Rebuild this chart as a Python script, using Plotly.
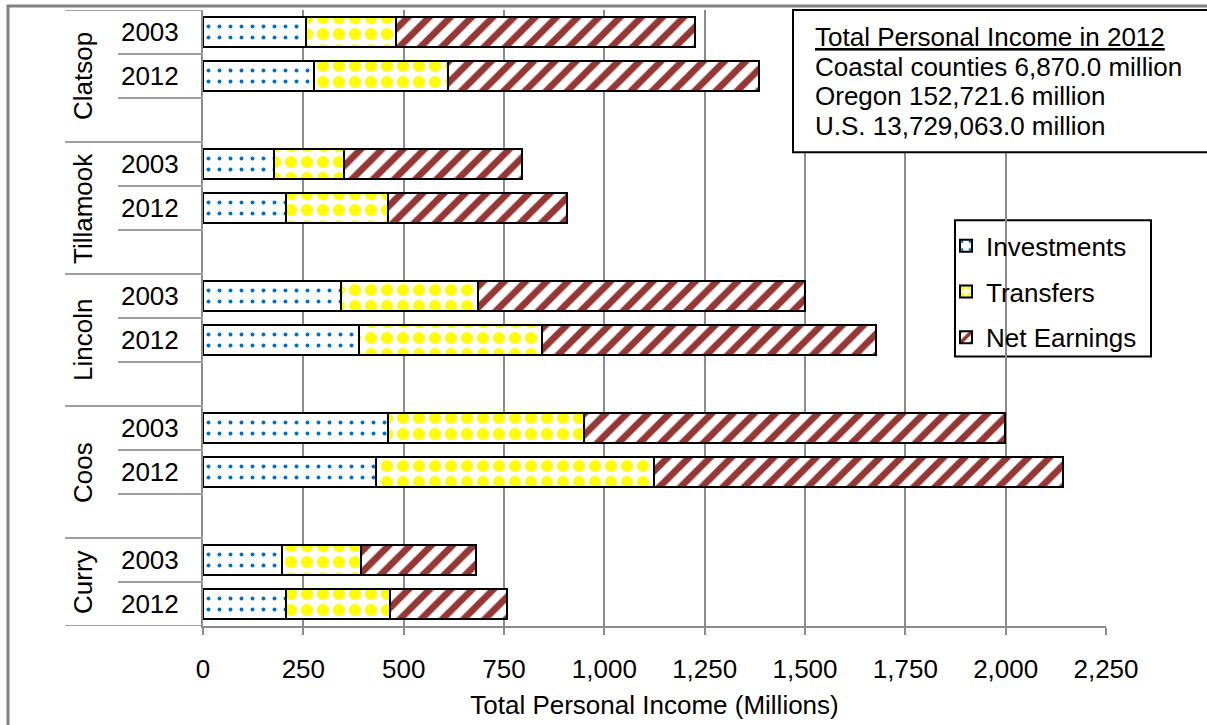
import plotly.graph_objects as go

# ---- data (millions of dollars) ----
counties = ["Clatsop", "Tillamook", "Lincoln", "Coos", "Curry"]
years = ["2003", "2012"]

# ordered county by county, 2003 then 2012
investments = [257, 277, 178, 208, 343, 388, 462, 432, 198, 207]
transfers = [224, 334, 174, 253, 342, 457, 487, 692, 195, 259]
net_earnings = [746, 774, 444, 447, 816, 832, 1049, 1019, 288, 291]

x_ticks = list(range(0, 2251, 250))

summary_title = "Total Personal Income in 2012"
summary_lines = [
    "Coastal counties 6,870.0 million",
    "Oregon 152,721.6 million",
    "U.S. 13,729,063.0 million",
]

# ---- layout geometry (pixels) ----
W, H = 1207, 725
ML, MR, MT, MB = 203, 101, 10, 91
PW, PH = W - ML - MR, H - MT - MB
FONT = "Liberation Sans, Arial, sans-serif"
FS = 26
GRID = "#8c8c8c"


def px_x(px):
    return (px - ML) / PW


def px_y(py):
    return (H - MB - py) / PH


# each county gets one slot per year plus a spacer slot
spg = len(years) + 1
slot_pos = [c * spg + k for c in range(len(counties)) for k in range(len(years))]
slot_text = [years[k] for c in range(len(counties)) for k in range(len(years))]
last_slot = slot_pos[-1]

fig = go.Figure()

series = [
    ("Investments", investments,
     dict(shape=".", fgcolor="#0070C0", bgcolor="white", fgopacity=1, size=11, solidity=0.1)),
    ("Transfers", transfers,
     dict(shape=".", fgcolor="#FFFF00", bgcolor="white", fgopacity=1, size=16, solidity=0.45)),
    ("Net Earnings", net_earnings,
     dict(shape="/", fgcolor="#953735", bgcolor="white", fgopacity=1, size=15, solidity=0.45)),
]
for name, vals, pat in series:
    fig.add_trace(go.Bar(
        y=slot_pos, x=vals, orientation="h", name=name, width=0.68,
        legendgroup=name,
        marker=dict(color="white", line=dict(color="black", width=2), pattern=pat),
    ))

shapes = []
annotations = []

# category dividers and county labels on the left of the y axis
for c, county in enumerate(counties):
    top = c * spg - 0.5
    bottom = min(top + spg, last_slot + 0.5)
    shapes.append(dict(type="line", xref="paper", yref="y", x0=px_x(65), x1=0,
                       y0=top, y1=top, line=dict(color="#a0a0a0", width=2)))
    for k in range(len(years)):
        yb = c * spg + k + 0.5
        if yb >= bottom:
            continue
        shapes.append(dict(type="line", xref="paper", yref="y", x0=px_x(118), x1=0,
                           y0=yb, y1=yb, line=dict(color="#a0a0a0", width=2)))
    annotations.append(dict(text=county, xref="paper", yref="y", x=px_x(83),
                            y=(top + bottom) / 2, textangle=-90, showarrow=False,
                            xanchor="center", yanchor="middle",
                            font=dict(family=FONT, size=FS, color="black")))
shapes.append(dict(type="line", xref="paper", yref="y", x0=px_x(65), x1=0,
                   y0=last_slot + 0.5, y1=last_slot + 0.5,
                   line=dict(color="#a0a0a0", width=2)))

# outer chart frame
shapes.append(dict(type="rect", xref="paper", yref="paper",
                   x0=px_x(8), x1=px_x(1400), y0=px_y(900), y1=px_y(6),
                   line=dict(color="#808080", width=3), fillcolor="rgba(0,0,0,0)",
                   layer="above"))

# summary box
shapes.append(dict(type="rect", xref="paper", yref="paper",
                   x0=px_x(793), x1=px_x(1300), y0=px_y(154), y1=px_y(10),
                   line=dict(color="black", width=2), fillcolor="white", layer="above"))
box_lines = ["<u>" + summary_title + "</u>"] + summary_lines
for i, line in enumerate(box_lines):
    annotations.append(dict(text=line, xref="paper", yref="paper",
                            x=px_x(813), y=px_y(37 + 30.3 * i), showarrow=False,
                            xanchor="left", yanchor="middle",
                            font=dict(family=FONT, size=FS, color="black")))

# legend frame
shapes.append(dict(type="rect", xref="paper", yref="paper",
                   x0=px_x(955), x1=px_x(1151), y0=px_y(361), y1=px_y(223),
                   line=dict(color="black", width=2), fillcolor="white", layer="below"))

fig.update_layout(
    width=W, height=H,
    margin=dict(l=ML, r=MR, t=MT, b=MB),
    barmode="stack",
    paper_bgcolor="white", plot_bgcolor="white",
    font=dict(family=FONT, size=FS, color="black"),
    shapes=shapes, annotations=annotations,
    legend=dict(x=px_x(946), y=px_y(225), xanchor="left", yanchor="top",
                bgcolor="rgba(0,0,0,0)", borderwidth=0,
                font=dict(family=FONT, size=FS, color="black"),
                traceorder="grouped", tracegroupgap=9, itemwidth=30),
    xaxis=dict(range=[0, 2250], tickvals=x_ticks, tickformat=",",
               showgrid=True, gridcolor=GRID, gridwidth=1.5,
               showline=True, linecolor=GRID, linewidth=2,
               ticks="outside", ticklen=7, tickcolor=GRID, tickwidth=1.5,
               zeroline=False, ticklabelstandoff=12,
               title=dict(text="Total Personal Income (Millions)", standoff=13,
                          font=dict(family=FONT, size=FS, color="black"))),
    yaxis=dict(range=[last_slot + 0.5, -0.5], tickvals=slot_pos, ticktext=slot_text,
               showgrid=False, zeroline=False, showline=True, linecolor=GRID,
               linewidth=2, ticks="", ticklabelstandoff=17),
)

fig.write_html("out.html")
